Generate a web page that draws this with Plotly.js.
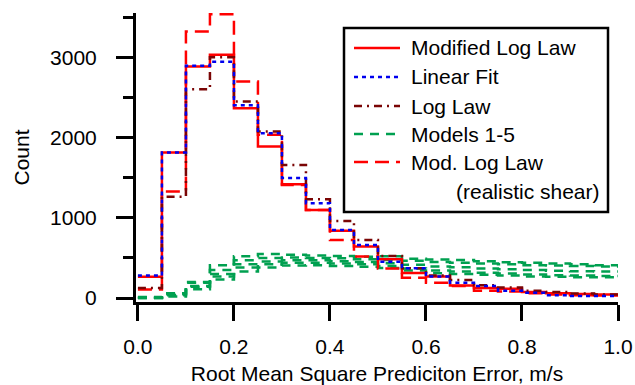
<!DOCTYPE html>
<html>
<head>
<meta charset="utf-8">
<script src="https://cdn.plot.ly/plotly-3.0.1.min.js"></script>
<style>html,body{margin:0;padding:0;background:#fff;}#chart{width:635px;height:385px;}</style>
</head>
<body>
<div id="chart"></div>
<script>
// Bin edges (m/s)
const binEdges = [0, 0.05, 0.1, 0.15, 0.2, 0.25, 0.3, 0.35, 0.4, 0.45, 0.5,
                  0.55, 0.6, 0.65, 0.7, 0.75, 0.8, 0.85, 0.9, 0.95, 1.0];

// Counts per bin (20 bins)
const modifiedLogLaw = [265, 1816, 2891, 3037, 2371, 1891, 1420, 1100, 840, 642, 483, 312, 267, 155, 125, 115, 75, 60, 50, 45];
const linearFit      = [280, 1816, 2900, 2950, 2408, 2058, 1500, 1183, 850, 662, 454, 371, 267, 192, 150, 90, 65, 35, 25, 25];
const logLaw         = [125, 1266, 2608, 3008, 2454, 2079, 1662, 1233, 962, 725, 525, 371, 280, 225, 160, 130, 90, 75, 55, 45];
const models1 = [12, 60, 200, 410, 520, 550, 540, 530, 525, 515, 520, 490, 480, 475, 460, 445, 440, 430, 420, 410];
const models2 = [6, 55, 190, 350, 470, 500, 505, 500, 495, 485, 475, 465, 450, 440, 430, 420, 410, 405, 400, 392];
const models3 = [2, 45, 150, 300, 420, 455, 470, 470, 460, 450, 435, 415, 395, 385, 370, 360, 350, 340, 335, 330];
const models4 = [0, 35, 140, 267, 380, 420, 440, 440, 430, 420, 400, 370, 345, 330, 315, 305, 295, 285, 280, 275];
const models5 = [0, 20, 110, 230, 330, 380, 405, 410, 400, 390, 375, 345, 310, 300, 290, 280, 270, 265, 260, 258];
const realisticShear = [105, 1330, 3329, 3545, 2704, 2040, 1412, 1100, 725, 517, 370, 254, 192, 150, 92, 80, 60, 45, 35, 30];

const xTickVals = [0, 0.2, 0.4, 0.6, 0.8, 1.0];
const xTickText = ['0.0', '0.2', '0.4', '0.6', '0.8', '1.0'];
const yTickVals = [0, 1000, 2000, 3000];
const yMinorVals = [500, 1500, 2500, 3500];

const legendNames = ['Modified Log Law', 'Linear Fit', 'Log Law', 'Models 1-5', 'Mod. Log Law'];
const legendExtra = '(realistic shear)';

const FONT = 'Liberation Sans, Arial, sans-serif';
const RED = '#ff0000', BLUE = '#0000ee', MAROON = '#7a0505', GREEN = '#00a050';

function steps(v) { return v.concat([v[v.length - 1]]); }
function stepTrace(vals, color, width, dash, name) {
  return {x: binEdges, y: steps(vals), type: 'scatter', mode: 'lines', name: name,
          line: {shape: 'hv', color: color, width: width, dash: dash}, showlegend: false,
          hoverinfo: 'skip'};
}

const traces = [
  stepTrace(models1, GREEN, 2.5, '9px,7px', 'Models 1-5'),
  stepTrace(models2, GREEN, 2.5, '9px,7px', 'Models 1-5'),
  stepTrace(models3, GREEN, 2.5, '9px,7px', 'Models 1-5'),
  stepTrace(models4, GREEN, 2.5, '9px,7px', 'Models 1-5'),
  stepTrace(models5, GREEN, 2.5, '9px,7px', 'Models 1-5'),
  stepTrace(realisticShear, RED, 2.5, '14px,7px', 'Mod. Log Law (realistic shear)'),
  stepTrace(modifiedLogLaw, RED, 2.5, 'solid', 'Modified Log Law'),
  stepTrace(logLaw, MAROON, 2.5, '8px,5px,2px,5px', 'Log Law'),
  stepTrace(linearFit, BLUE, 2.5, '4px,4px', 'Linear Fit')
];

// plot area geometry (pixels) used to place the hand-drawn legend box
const L = 136, R = 17, T = 13, B = 83, W = 635, H = 385;
const pw = W - L - R, ph = H - T - B;
const px = x => (x - L) / pw;
const py = y => (H - B - y) / ph;

const legendStyles = [
  {color: RED, dash: 'solid'},
  {color: BLUE, dash: '4px,4px'},
  {color: MAROON, dash: '8px,5px,2px,5px'},
  {color: GREEN, dash: '9px,7px'},
  {color: RED, dash: '14px,7px'}
];
const rowY = [48, 77, 106, 134, 162];

const shapes = [{type: 'rect', xref: 'paper', yref: 'paper', x0: px(344), x1: px(608), y0: py(28), y1: py(212),
                 line: {color: '#000', width: 2.5}, fillcolor: 'rgba(255,255,255,0)', layer: 'above'}];
const annotations = [];
legendNames.forEach((n, i) => {
  shapes.push({type: 'line', xref: 'paper', yref: 'paper', x0: px(354), x1: px(400), y0: py(rowY[i]), y1: py(rowY[i]),
               line: {color: legendStyles[i].color, width: 2.5, dash: legendStyles[i].dash}});
  annotations.push({xref: 'paper', yref: 'paper', x: px(409), y: py(rowY[i]), xanchor: 'left', yanchor: 'middle',
                    text: n, showarrow: false, font: {family: FONT, size: 21, color: '#000'}});
});
annotations.push({xref: 'paper', yref: 'paper', x: px(602), y: py(191), xanchor: 'right', yanchor: 'middle',
                  text: legendExtra, showarrow: false, font: {family: FONT, size: 21, color: '#000'}});

const layout = {
  width: W, height: H,
  margin: {l: L, r: R, t: T, b: B},
  paper_bgcolor: '#fff', plot_bgcolor: '#fff',
  font: {family: FONT, size: 21, color: '#000'},
  showlegend: false,
  xaxis: {
    range: [-0.004, 1.0], tickvals: xTickVals, ticktext: xTickText,
    showline: true, linewidth: 3, linecolor: '#000', ticks: 'outside', ticklen: 16, tickwidth: 3, tickcolor: '#000',
    ticklabelstandoff: 8,
    showgrid: false, zeroline: false, tickfont: {family: FONT, size: 21, color: '#000'},
    title: {text: 'Root Mean Square Prediciton Error, m/s', font: {family: FONT, size: 21, color: '#000'}, standoff: 14}
  },
  yaxis: {
    range: [-50, 3560], tickvals: yTickVals,
    showline: true, linewidth: 3, linecolor: '#000', ticks: 'outside', ticklen: 17, tickwidth: 3, tickcolor: '#000',
    ticklabelstandoff: 15,
    minor: {tickvals: yMinorVals, ticks: 'outside', ticklen: 10, tickwidth: 3, tickcolor: '#000', showgrid: false},
    showgrid: false, zeroline: false, tickfont: {family: FONT, size: 21, color: '#000'},
    title: {text: 'Count', font: {family: FONT, size: 21, color: '#000'}, standoff: 15}
  },
  shapes: shapes,
  annotations: annotations
};

Plotly.newPlot('chart', traces, layout, {staticPlot: true, displayModeBar: false});
</script>
</body>
</html>
